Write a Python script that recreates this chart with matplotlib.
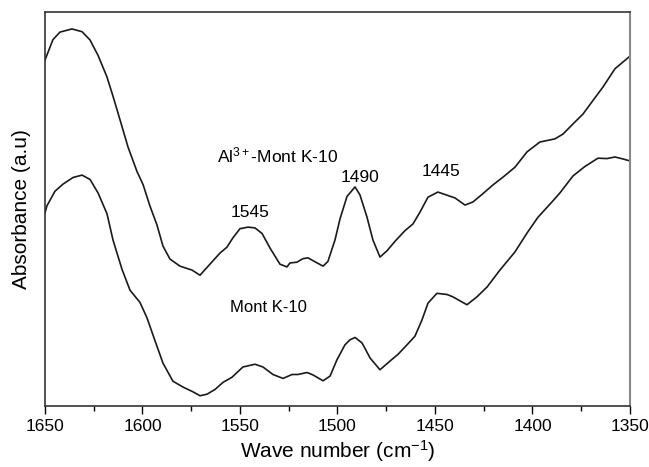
import matplotlib
matplotlib.use('Agg')
import matplotlib.pyplot as plt
from matplotlib.ticker import MultipleLocator

plt.rcParams['font.family'] = ['Liberation Sans', 'DejaVu Sans']
plt.rcParams['mathtext.fontset'] = 'custom'
plt.rcParams['mathtext.rm'] = 'Liberation Sans'
plt.rcParams['mathtext.it'] = 'Liberation Sans:italic'

# ── Spectra (wavenumber cm-1, absorbance a.u.) ────────────────────────────────
wn_al = [1650, 1645.9, 1642.3, 1636.2, 1631.0, 1626.9, 1622.8, 1618.2, 1615.1,
         1611.5, 1607.4, 1602.8, 1599.7, 1596.2, 1592.6, 1589.5, 1585.9, 1580.8,
         1574.6, 1570.5, 1565.4, 1560.3, 1556.7, 1553.6, 1550.0, 1545.9, 1542.3,
         1538.7, 1534.6, 1529.5, 1525.9, 1524.4, 1520.8, 1517.7, 1515.1, 1511.5,
         1507.4, 1504.9, 1501.3, 1498.7, 1495.1, 1491.0, 1488.5, 1484.9, 1481.8,
         1478.2, 1474.6, 1470.5, 1465.4, 1461.3, 1457.7, 1453.6, 1448.5, 1443.8,
         1439.7, 1434.6, 1430.5, 1425.4, 1420.3, 1415.1, 1409.0, 1402.8, 1396.2,
         1388.5, 1384.4, 1379.2, 1374.1, 1369.5, 1363.8, 1357.7, 1353.6, 1350]
abs_al = [0.878, 0.930, 0.949, 0.957, 0.950, 0.929, 0.890, 0.835, 0.786,
          0.726, 0.657, 0.595, 0.562, 0.508, 0.460, 0.406, 0.373, 0.355,
          0.345, 0.332, 0.360, 0.388, 0.403, 0.427, 0.450, 0.454, 0.452,
          0.438, 0.401, 0.360, 0.353, 0.363, 0.365, 0.374, 0.376, 0.366,
          0.355, 0.367, 0.421, 0.475, 0.532, 0.556, 0.536, 0.480, 0.421,
          0.378, 0.394, 0.418, 0.445, 0.462, 0.492, 0.530, 0.543, 0.535,
          0.528, 0.510, 0.518, 0.539, 0.561, 0.581, 0.606, 0.645, 0.670,
          0.678, 0.690, 0.716, 0.741, 0.772, 0.810, 0.856, 0.873, 0.888]

wn_mont = [1650, 1649.0, 1644.9, 1640.8, 1635.6, 1631.0, 1626.9, 1622.8, 1618.2,
           1615.1, 1610.5, 1606.4, 1601.3, 1597.7, 1593.6, 1589.5, 1584.4, 1579.2,
           1574.1, 1570.5, 1566.9, 1562.8, 1558.7, 1554.1, 1548.5, 1542.3, 1538.2,
           1533.1, 1527.9, 1523.3, 1520.3, 1515.6, 1512.6, 1507.4, 1503.8, 1500.3,
           1496.2, 1493.6, 1491.0, 1487.4, 1483.3, 1478.2, 1473.1, 1469.0, 1464.4,
           1460.3, 1456.7, 1453.6, 1449.0, 1443.8, 1440.8, 1433.6, 1428.5, 1423.3,
           1416.7, 1409.0, 1402.8, 1397.2, 1390.0, 1385.9, 1379.2, 1373.1, 1366.4,
           1361.8, 1357.7, 1353.6, 1350]
abs_mont = [0.490, 0.508, 0.545, 0.563, 0.580, 0.586, 0.575, 0.541, 0.488,
            0.421, 0.347, 0.294, 0.263, 0.224, 0.166, 0.109, 0.063, 0.048,
            0.036, 0.026, 0.030, 0.042, 0.060, 0.073, 0.099, 0.106, 0.099,
            0.080, 0.070, 0.080, 0.080, 0.085, 0.079, 0.064, 0.076, 0.117,
            0.155, 0.168, 0.174, 0.160, 0.122, 0.092, 0.114, 0.131, 0.155,
            0.177, 0.218, 0.261, 0.286, 0.283, 0.277, 0.257, 0.277, 0.302,
            0.345, 0.391, 0.439, 0.479, 0.518, 0.541, 0.584, 0.608, 0.629,
            0.628, 0.632, 0.627, 0.622]

peak_labels = ['1545', '1490', '1445']
peak_x = [1544.9, 1488.5, 1446.9]
peak_y = [0.492, 0.581, 0.596]

fig = plt.figure(figsize=(6.49, 4.67), dpi=100)
ax = fig.add_axes([0.0693, 0.1306, 0.9014, 0.8437])

for wn, ab in ((wn_al, abs_al), (wn_mont, abs_mont)):
    ax.plot(wn, ab, color='#1a1a1a', lw=1.2,
            solid_joinstyle='round', solid_capstyle='round')

ax.text(1530.5, 0.637, r'Al$^{3+}$-Mont K-10', fontsize=12.5,
        ha='center', va='center')
ax.text(1535.6, 0.251, 'Mont K-10', fontsize=12, ha='center', va='center')
for lab, x, y in zip(peak_labels, peak_x, peak_y):
    ax.text(x, y, lab, fontsize=12.5, ha='center', va='center')

ax.set_xlim(1650, 1350)
ax.set_ylim(0, 1)
ax.xaxis.set_major_locator(MultipleLocator(50))
ax.xaxis.set_minor_locator(MultipleLocator(25))
ax.tick_params(axis='x', which='major', direction='out', length=6, width=1,
               labelsize=12.5, pad=3)
ax.tick_params(axis='x', which='minor', direction='out', length=3.5, width=1)
ax.set_yticks([])

for side in ('left', 'bottom', 'top'):
    ax.spines[side].set_color('#333333')
    ax.spines[side].set_linewidth(1.2)
ax.spines['right'].set_color('#888888')
ax.spines['right'].set_linewidth(1.5)

ax.set_xlabel(r'Wave number (cm$^{-1}$)', fontsize=15, labelpad=3)
ax.set_ylabel('Absorbance (a.u)', fontsize=15, labelpad=10)

fig.savefig('out.png', dpi=100)
